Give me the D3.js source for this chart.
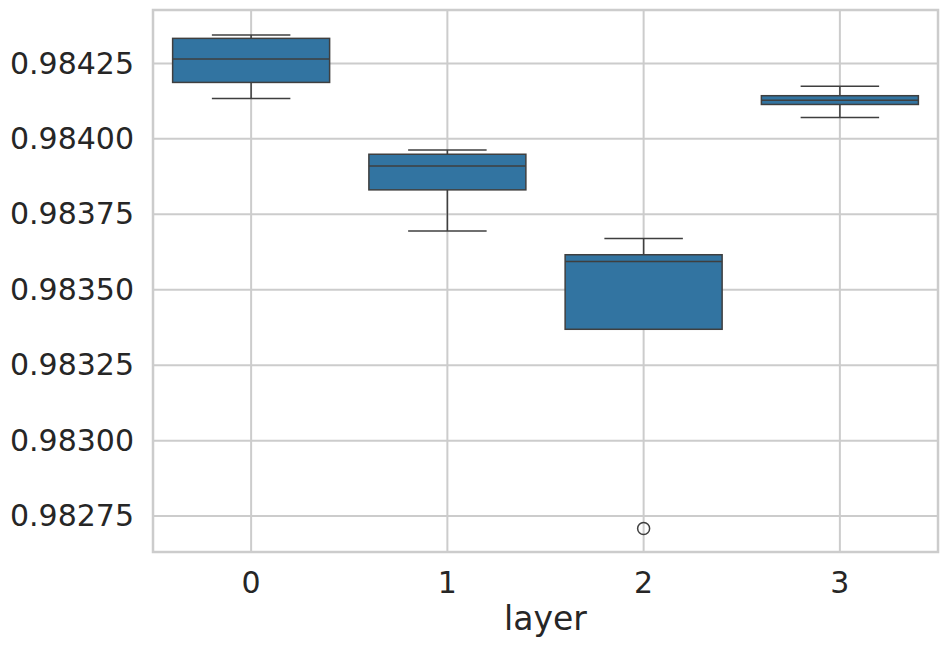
<!DOCTYPE html>
<html><head><meta charset="utf-8">
<script src="https://cdn.jsdelivr.net/npm/d3@7"></script>
<style>body{margin:0;background:#fff;} text{font-family:"DejaVu Sans",sans-serif;fill:#262626;}</style>
</head><body>
<svg id="chart" width="948" height="648"></svg>
<script>
const categories = ["0","1","2","3"];
const whiskerLow = [0.984134, 0.983695, 0.983369, 0.984071];
const q1 = [0.984187, 0.983831, 0.983369, 0.984114];
const median = [0.984265, 0.983910, 0.983594, 0.984128];
const q3 = [0.984333, 0.983949, 0.983616, 0.984143];
const whiskerHigh = [0.984344, 0.983963, 0.983670, 0.984174];
const outliers = [[], [], [0.982709], []];
const yTicks = [0.98275, 0.98300, 0.98325, 0.98350, 0.98375, 0.98400, 0.98425];
const xLabel = "layer";

const svg = d3.select("#chart");
const m = {left:153, right:938, top:10, bottom:552};
const x = d3.scaleBand().domain(categories).range([m.left, m.right]).padding(0);
const y = d3.scaleLinear().domain([0.982631, 0.984427]).range([m.bottom, m.top]);
const grid = "#cccccc";

// gridlines
svg.append("g").selectAll("line").data(yTicks).join("line")
  .attr("x1", m.left).attr("x2", m.right)
  .attr("y1", d=>y(d)).attr("y2", d=>y(d))
  .attr("stroke", grid).attr("stroke-width", 2);
svg.append("g").selectAll("line").data(categories).join("line")
  .attr("x1", d=>x(d)+x.bandwidth()/2).attr("x2", d=>x(d)+x.bandwidth()/2)
  .attr("y1", m.top).attr("y2", m.bottom)
  .attr("stroke", grid).attr("stroke-width", 2);

// axes (tick labels)
const yAxis = d3.axisLeft(y).tickValues(yTicks).tickFormat(d3.format(".5f")).tickSize(0).tickPadding(19);
const gy = svg.append("g").attr("transform", `translate(${m.left},0)`).call(yAxis);
gy.select(".domain").remove();
gy.selectAll("text").style("font-size","30px").attr("fill","#262626");
const xAxis = d3.axisBottom(x).tickSize(0).tickPadding(20);
const gx = svg.append("g").attr("transform", `translate(0,${m.bottom})`).call(xAxis);
gx.select(".domain").remove();
gx.selectAll("text").style("font-size","30px").attr("fill","#262626");

svg.append("text").attr("x", (m.left+m.right)/2).attr("y", 630)
  .attr("text-anchor","middle").style("font-size","33px").text(xLabel);

// boxes
const lineC = "#3f3f3f";
const bw = x.bandwidth()*0.8, cw = bw/2;
const g = svg.append("g");
categories.forEach((c,i)=>{
  const cx = x(c)+x.bandwidth()/2;
  g.append("line").attr("x1",cx).attr("x2",cx).attr("y1",y(whiskerHigh[i])).attr("y2",y(q3[i])).attr("stroke",lineC).attr("stroke-width",1.5);
  g.append("line").attr("x1",cx).attr("x2",cx).attr("y1",y(q1[i])).attr("y2",y(whiskerLow[i])).attr("stroke",lineC).attr("stroke-width",1.5);
  g.append("line").attr("x1",cx-cw/2).attr("x2",cx+cw/2).attr("y1",y(whiskerHigh[i])).attr("y2",y(whiskerHigh[i])).attr("stroke",lineC).attr("stroke-width",1.5);
  g.append("line").attr("x1",cx-cw/2).attr("x2",cx+cw/2).attr("y1",y(whiskerLow[i])).attr("y2",y(whiskerLow[i])).attr("stroke",lineC).attr("stroke-width",1.5);
  g.append("rect").attr("x",cx-bw/2).attr("width",bw).attr("y",y(q3[i])).attr("height",Math.max(0,y(q1[i])-y(q3[i])))
    .attr("fill","#3274a1").attr("stroke",lineC).attr("stroke-width",1.5);
  g.append("line").attr("x1",cx-bw/2).attr("x2",cx+bw/2).attr("y1",y(median[i])).attr("y2",y(median[i])).attr("stroke",lineC).attr("stroke-width",1.5);
  outliers[i].forEach(v=>{
    g.append("circle").attr("cx",cx).attr("cy",y(v)).attr("r",6).attr("fill","none").attr("stroke",lineC).attr("stroke-width",1.5);
  });
});

// spines
svg.append("rect").attr("x",m.left).attr("y",m.top).attr("width",m.right-m.left).attr("height",m.bottom-m.top)
  .attr("fill","none").attr("stroke",grid).attr("stroke-width",2.5);
</script>
</body></html>
